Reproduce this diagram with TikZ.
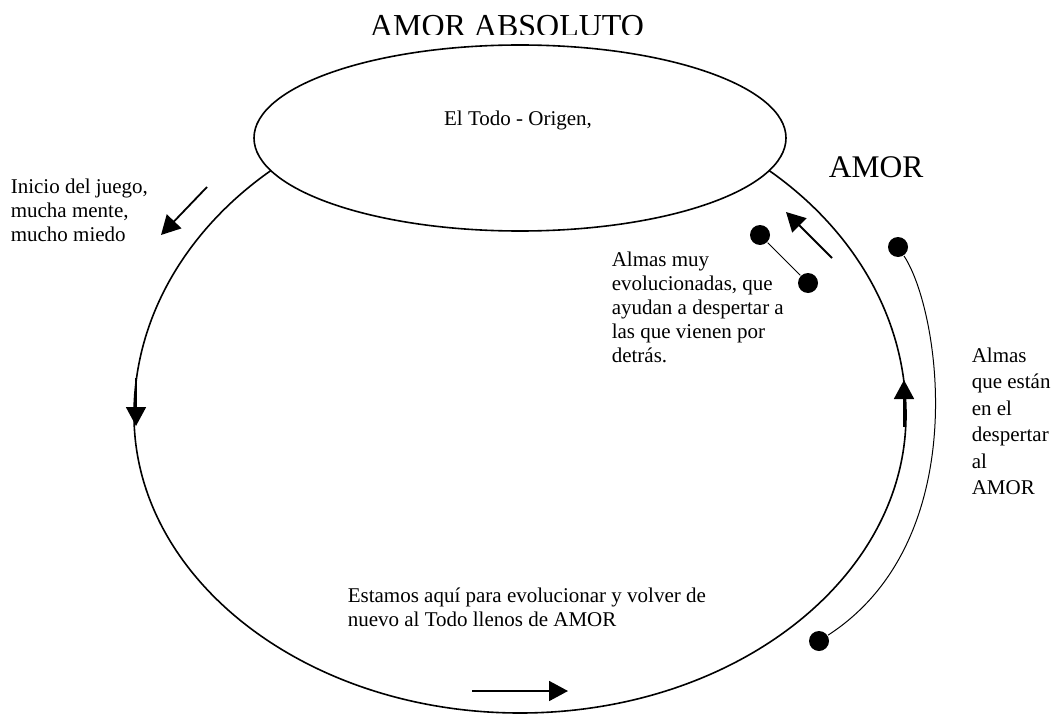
\documentclass[tikz,border=0pt]{standalone}
\usepackage{fontspec}
\setmainfont{Liberation Serif}
\usetikzlibrary{arrows.meta}
\tikzset{
  txt/.style={anchor=north west,inner sep=0pt,align=left,font=\fontsize{21}{24}\selectfont},
  dot/.style={circle,fill,inner sep=0pt,minimum size=20pt},
  flecha/.style={line width=1.8pt,-{Triangle[width=20pt,length=19pt]}},
}
\begin{document}
\begin{tikzpicture}[x=1pt,y=-1pt,line width=1.6pt]
\useasboundingbox (0,0) rectangle (1056,714);
% title, cut off at the bottom
\begin{scope}
\clip (300,0) rectangle (720,34.4);
\node[anchor=base,inner sep=0pt,font=\fontsize{32}{36}\selectfont] (titulo) at (507,36.7) {AMOR ABSOLUTO};
\end{scope}
% the big cycle
\draw (134,415) arc[start angle=180,end angle=360,x radius=386,y radius=320]
  arc[start angle=0,end angle=180,x radius=386,y radius=298];
\draw[fill=white] (520,138) ellipse [x radius=266,y radius=93];
\node[anchor=base,inner sep=0pt,font=\fontsize{21}{24}\selectfont] (todo) at (518,125.7) {El Todo - Origen,};
\node[anchor=base west,inner sep=0pt,font=\fontsize{31.5}{36}\selectfont] (amor) at (828,178) {AMOR};
% texts
\node[txt] (inicio) at (10,178) {Inicio del juego,\\mucha mente,\\mucho miedo};
\node[txt] (evol) at (611,251) {Almas muy\\evolucionadas, que\\ayudan a despertar a\\las que vienen por\\detrás.};
\node[txt,font=\fontsize{21}{26.5}\selectfont] (desp) at (971,347) {Almas\\que están\\en el\\despertar\\al\\AMOR};
\node[txt] (estamos) at (347,587) {Estamos aquí para evolucionar y volver de\\nuevo al Todo llenos de AMOR};
% souls
\node[dot] (almaA) at (760,235) {};
\node[dot] (almaB) at (808,283) {};
\node[dot] (almaC) at (898,247) {};
\node[dot] (almaD) at (819,641) {};
\draw[line width=1pt] (almaA) -- (almaB);
\draw[line width=1pt] (almaC) .. controls (940,310) and (975,540) .. (almaD);
% arrows
\coordinate (i1) at (207,187);
\coordinate (i2) at (161,235);
\coordinate (e1) at (832,258);
\coordinate (e2) at (786,212);
\coordinate (l1) at (136,378);
\coordinate (l2) at (136,426);
\coordinate (r1) at (904,427);
\coordinate (r2) at (904,380);
\coordinate (b1) at (472,691);
\coordinate (b2) at (568,691);
\draw[flecha] (i1) -- (i2);
\draw[flecha] (e1) -- (e2);
\draw[flecha] (l1) -- (l2);
\draw[flecha] (r1) -- (r2);
\draw[flecha] (b1) -- (b2);
\end{tikzpicture}
\end{document}
